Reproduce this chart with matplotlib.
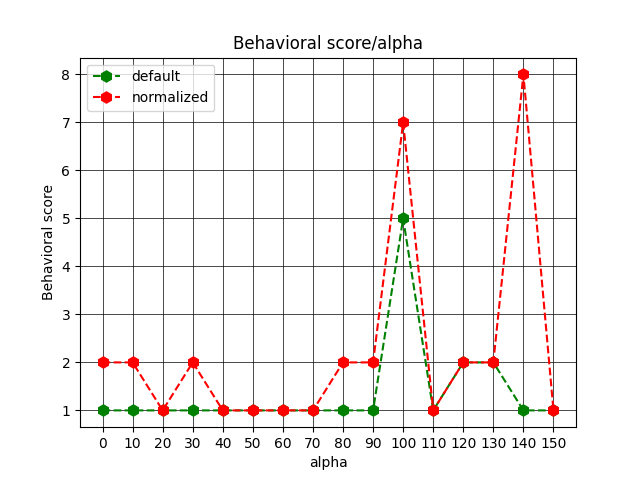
import matplotlib

matplotlib.use("Agg")
import matplotlib.pyplot as plt

alpha = [0, 10, 20, 30, 40, 50, 60, 70, 80, 90, 100, 110, 120, 130, 140, 150]
default_scores = [1, 1, 1, 1, 1, 1, 1, 1, 1, 1, 5, 1, 2, 2, 1, 1]
normalized_scores = [2, 2, 1, 2, 1, 1, 1, 1, 2, 2, 7, 1, 2, 2, 8, 1]

fig, ax = plt.subplots(figsize=(6.4, 4.8), dpi=100)
ax.plot(alpha, default_scores, "h--", color="green", markersize=8, label="default")
ax.plot(alpha, normalized_scores, "h--", color="red", markersize=8, label="normalized")
ax.set_xticks(alpha)
ax.set_xlabel("alpha")
ax.set_ylabel("Behavioral score")
ax.set_title("Behavioral score/alpha")
ax.grid(True, color="black", linewidth=0.5)
ax.legend(loc="upper left")
fig.savefig("out.png")
